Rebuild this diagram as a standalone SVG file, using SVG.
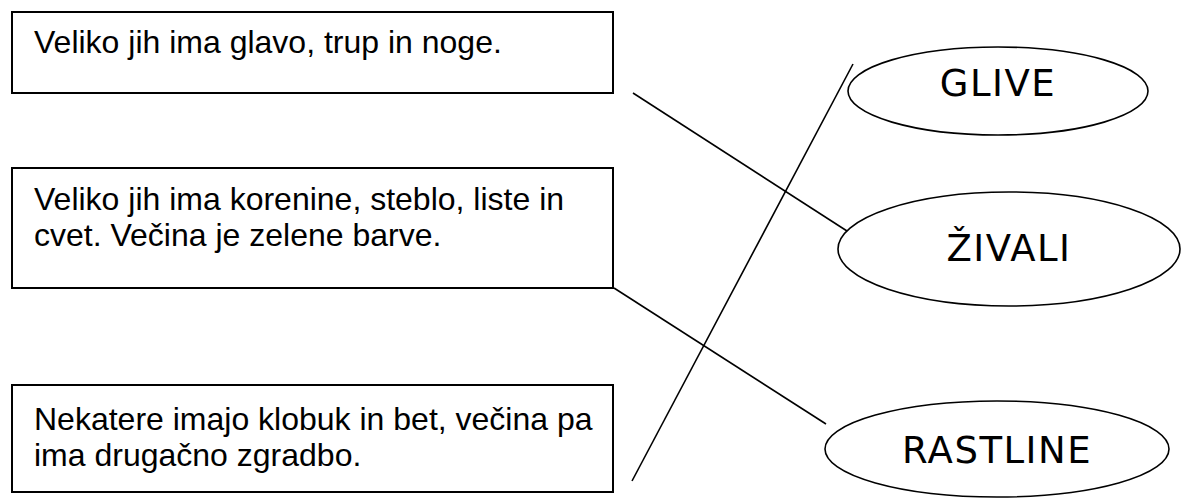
<svg xmlns="http://www.w3.org/2000/svg" width="1181" height="500" viewBox="0 0 1181 500">
<style>
.box{fill:#fff;stroke:#000;stroke-width:2}
.ell{fill:#fff;stroke:#000;stroke-width:1.6}
.t{font-family:"Liberation Sans",Arial,sans-serif;font-size:32px;fill:#000}
.e{font-family:"Comic Sans MS","DejaVu Sans",sans-serif;font-size:37px;letter-spacing:1.5px;fill:#000;text-anchor:middle}
.c{stroke:#000;stroke-width:1.6;fill:none}
</style>
<rect width="1181" height="500" fill="#fff"/>
<g id="box1"><rect class="box" x="12" y="12" width="601" height="81"/><text class="t" x="34" y="53">Veliko jih ima glavo, trup in noge.</text></g>
<g id="box2"><rect class="box" x="12" y="168" width="601" height="120"/><text class="t" x="34" y="210">Veliko jih ima korenine, steblo, liste in</text><text class="t" x="34" y="246">cvet. Večina je zelene barve.</text></g>
<g id="box3"><rect class="box" x="12" y="385" width="601" height="107"/><text class="t" x="34" y="430">Nekatere imajo klobuk in bet, večina pa</text><text class="t" x="34" y="466">ima drugačno zgradbo.</text></g>
<g id="glive"><ellipse class="ell" cx="998" cy="91" rx="150" ry="44"/><text class="e" x="998" y="96">GLIVE</text></g>
<g id="zivali"><ellipse class="ell" cx="1009" cy="249" rx="171" ry="57"/><text class="e" x="1009" y="261">ŽIVALI</text></g>
<g id="rastline"><ellipse class="ell" cx="997" cy="449" rx="172" ry="48"/><text class="e" x="997" y="463">RASTLINE</text></g>
<g id="connectors">
<line class="c" x1="633" y1="93" x2="847" y2="231"/>
<line class="c" x1="614" y1="288" x2="826" y2="424"/>
<line class="c" x1="632" y1="481" x2="853" y2="64"/>
</g>
</svg>
